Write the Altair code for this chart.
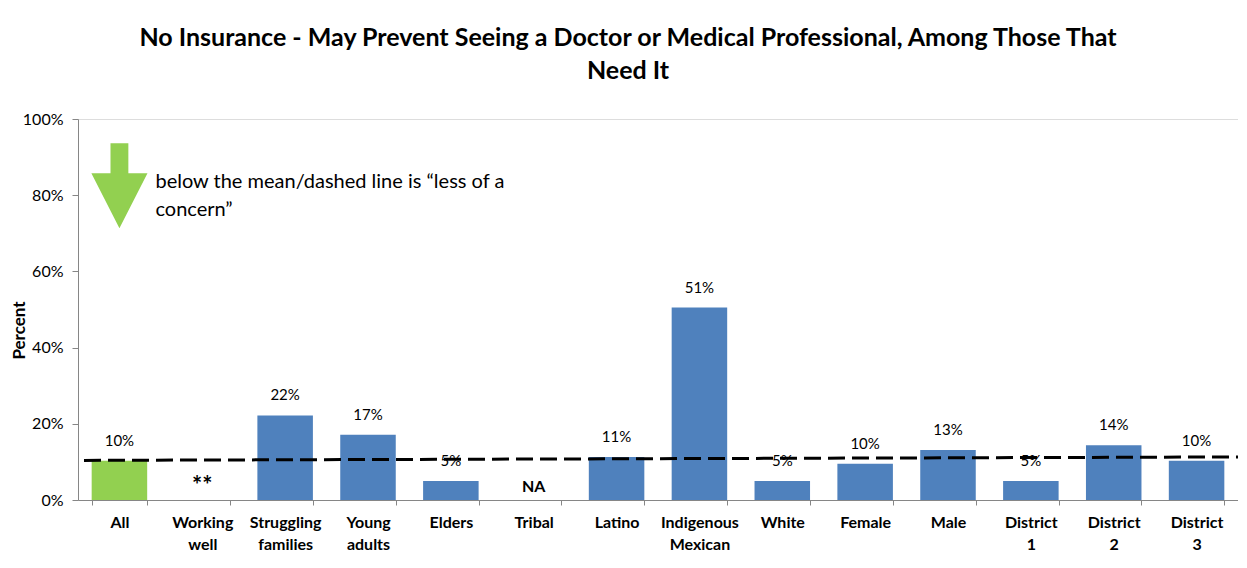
import altair as alt
import pandas as pd

# ---- data ----
categories = ["All", "Working well", "Struggling families", "Young adults", "Elders",
              "Tribal", "Latino", "Indigenous Mexican", "White", "Female", "Male",
              "District 1", "District 2", "District 3"]
values = [10.3, None, 22.2, 17.1, 5.0, None, 11.3, 50.5, 5.0, 9.5, 13.1, 5.0, 14.4, 10.3]
value_labels = ["10%", "**", "22%", "17%", "5%", "NA", "11%", "51%", "5%", "10%", "13%",
                "5%", "14%", "10%"]
groups = ["overall"] + ["subgroup"] * 13
mean_start, mean_end = 10.4, 11.3
y_ticks = [0, 20, 40, 60, 80, 100]
title_lines = ["No Insurance - May Prevent Seeing a Doctor or Medical Professional, Among Those That",
               "Need It"]
annotation_lines = ["below the mean/dashed line is \u201cless of a", "concern\u201d"]
arrow_y = 82.5
annotation_y = 83.4

FONT = "Lato"
W, H = 1160, 381
BLUE, GREEN = "#4F81BD", "#92D050"

df = pd.DataFrame({"category": categories, "value": values, "label": value_labels, "group": groups})
df_has = df[df["value"].notna()]
df_missing = df[df["value"].isna()]

x = alt.X("category:N", sort=categories,
          scale=alt.Scale(paddingInner=0.33, paddingOuter=0.165),
          axis=alt.Axis(title=None, labelAngle=0, labelFont=FONT, labelFontSize=16,
                        labelFontWeight="bold", labelColor="#000000",
                        labelExpr="split(datum.label, ' ')", labelLineHeight=22,
                        labelPadding=9, tickBand="extent", tickSize=5,
                        tickColor="#868686", domainColor="#868686", labelBaseline="top"))
y_scale = alt.Scale(domain=[0, 100])

bars = alt.Chart(df_has).mark_bar().encode(
    x=x,
    y=alt.Y("value:Q", scale=y_scale,
            axis=alt.Axis(title="Percent", values=y_ticks, labelExpr="datum.value + '%'",
                          grid=False, tickSize=6, tickColor="#868686", domainColor="#868686",
                          labelFont=FONT, labelFontSize=16, labelColor="#000000", labelPadding=9,
                          titleFont=FONT, titleFontSize=17, titleFontWeight="bold",
                          titleColor="#000000", titleX=-59, titleY=211, titleAngle=270,
                          titleAlign="center", titleBaseline="middle")),
    color=alt.Color("group:N", scale=alt.Scale(domain=["overall", "subgroup"], range=[GREEN, BLUE]),
                    legend=None),
)

labels = alt.Chart(df_has).mark_text(font=FONT, fontSize=15, color="#000000", dy=-20,
                                     baseline="middle").encode(
    x=alt.X("category:N", sort=categories), y=alt.Y("value:Q", scale=y_scale), text="label:N")

missing = alt.Chart(df_missing).mark_text(font=FONT, fontWeight="bold",
                                          color="#000000", dy=-13, baseline="middle").encode(
    x=alt.X("category:N", sort=categories), y=alt.datum(0, scale=y_scale), text="label:N",
    size=alt.Size("label:N", scale=alt.Scale(domain=["**", "NA"], range=[24, 16]), legend=None))

mean_df = pd.DataFrame({"y": [mean_start], "y2": [mean_end]})
mean_line = alt.Chart(mean_df).mark_rule(color="#000000", strokeWidth=3, strokeDash=[17, 7]).encode(
    x=alt.value(6), x2=alt.value(W), y=alt.Y("y:Q", scale=y_scale), y2="y2:Q")

arrow_path = "M -0.21 -1 L 0.21 -1 L 0.21 -0.29 L 0.66 -0.29 L 0 1 L -0.66 -0.29 L -0.21 -0.29 Z"
arrow = alt.Chart(pd.DataFrame({"category": ["All"], "y": [arrow_y]})).mark_point(
    shape=arrow_path, size=7225, filled=True, opacity=1, color=GREEN, strokeWidth=0).encode(
    x=alt.X("category:N", sort=categories), y=alt.Y("y:Q", scale=y_scale))

note = alt.Chart(pd.DataFrame({"category": ["All"], "y": [annotation_y]})).mark_text(
    align="left", baseline="middle", font=FONT, fontSize=20, lineHeight=28, color="#000000",
    dx=36, text=annotation_lines).encode(
    x=alt.X("category:N", sort=categories), y=alt.Y("y:Q", scale=y_scale))

chart = alt.layer(bars, labels, missing, mean_line, arrow, note).resolve_scale(size="independent").properties(
    width=W, height=H,
    title=alt.TitleParams(text=title_lines, font=FONT, fontSize=25, fontWeight="bold",
                          color="#000000", anchor="middle", dx=-30, offset=27, lineHeight=33),
    autosize=alt.AutoSizeParams(type="none"),
    padding={"left": 70, "top": 111, "right": 0, "bottom": 60},
).configure_view(stroke=None).configure(background="white")

chart.save("out.html", embed_options={"renderer": "svg", "actions": False})
